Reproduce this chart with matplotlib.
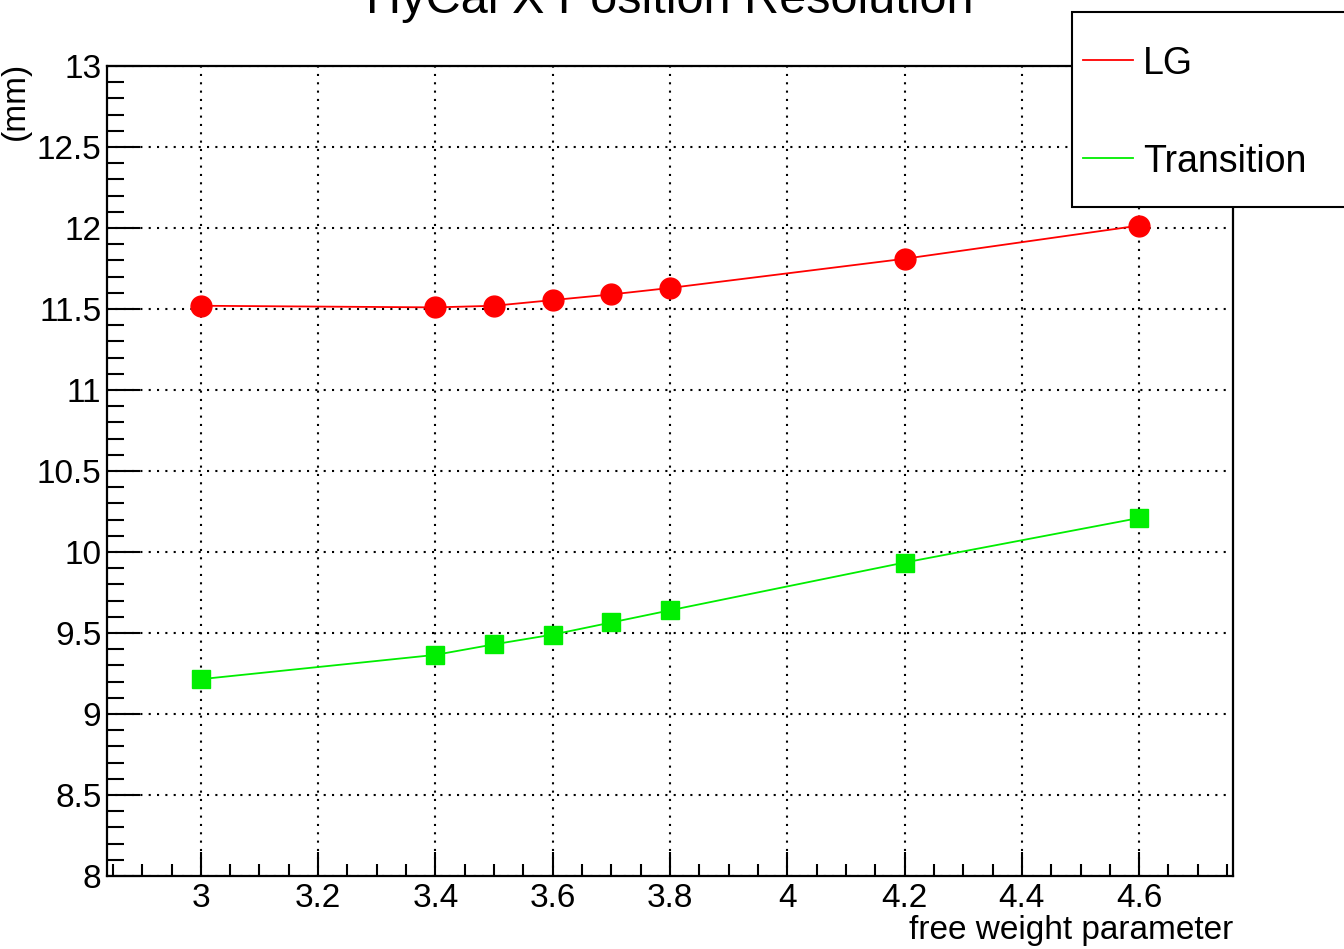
import matplotlib.pyplot as plt
from matplotlib.lines import Line2D
from matplotlib.patches import Rectangle
from matplotlib.ticker import MultipleLocator

plt.rcParams['font.family'] = ['Liberation Sans', 'DejaVu Sans']

weights = [3.0, 3.4, 3.5, 3.6, 3.7, 3.8, 4.2, 4.6]
res_lg = [11.52, 11.51, 11.52, 11.555, 11.59, 11.63, 11.81, 12.015]
res_trans = [9.215, 9.365, 9.43, 9.49, 9.565, 9.64, 9.935, 10.21]

W, H = 1344, 949
fig = plt.figure(figsize=(W / 100, H / 100), dpi=100)
ax = fig.add_axes([107 / W, 1 - 876 / H, (1233 - 107) / W, (876 - 66) / H])

ax.plot(weights, res_lg, color='#ff0000', lw=1.3, marker='o', ms=15, mec='#ff0000')
ax.plot(weights, res_trans, color='#00ee00', lw=1.3, marker='s', ms=13.5, mec='#00ee00')

ax.set_xlim(2.84, 4.76)
ax.set_ylim(8, 13)
ax.xaxis.set_major_locator(MultipleLocator(0.2))
ax.xaxis.set_minor_locator(MultipleLocator(0.05))
ax.yaxis.set_major_locator(MultipleLocator(0.5))
ax.yaxis.set_minor_locator(MultipleLocator(0.1))
ax.xaxis.set_major_formatter(plt.FuncFormatter(lambda v, p: f'{v:g}'))
ax.yaxis.set_major_formatter(plt.FuncFormatter(lambda v, p: f'{v:g}'))

ax.tick_params(which='both', direction='in', labelsize=24, width=1.5, top=False, right=False)
ax.tick_params(axis='x', which='major', length=17, pad=5)
ax.tick_params(axis='x', which='minor', length=9)
ax.tick_params(axis='y', which='major', length=24, pad=4)
ax.tick_params(axis='y', which='minor', length=12)
for s in ax.spines.values():
    s.set_linewidth(1.6)

ax.grid(True, which='major', color='black', ls=(0, (1, 3)), lw=1.5)

ax.set_xlabel('free weight parameter', fontsize=24, loc='right')
ax.xaxis.set_label_coords(1.0, -(930 - 876) / (876 - 66), transform=ax.transAxes)
ax.xaxis.label.set_va('center')
ax.set_ylabel('(mm)', fontsize=24, loc='top')
ax.yaxis.set_label_coords(-0.068, 1.005)

fig.text(670 / W, 1 - 13 / H, 'HyCal X Position Resolution', fontsize=35,
         ha='center', va='baseline')

# legend box in the top right corner
fig.patches.append(Rectangle((1072 / W, 1 - 207 / H), 300 / W, 195 / H,
                             transform=fig.transFigure, fill=True, fc='white',
                             ec='black', lw=1.5, zorder=5))
for y, col, name in [(60, '#ff0000', 'LG'), (158, '#00ee00', 'Transition')]:
    fig.lines.append(Line2D([1083 / W, 1133 / W], [1 - y / H, 1 - y / H],
                            transform=fig.transFigure, color=col, lw=1.3, zorder=6))
    fig.text(1143 / W, 1 - y / H, name, fontsize=27, va='center_baseline', zorder=6)

fig.savefig('out.png', dpi=100)
